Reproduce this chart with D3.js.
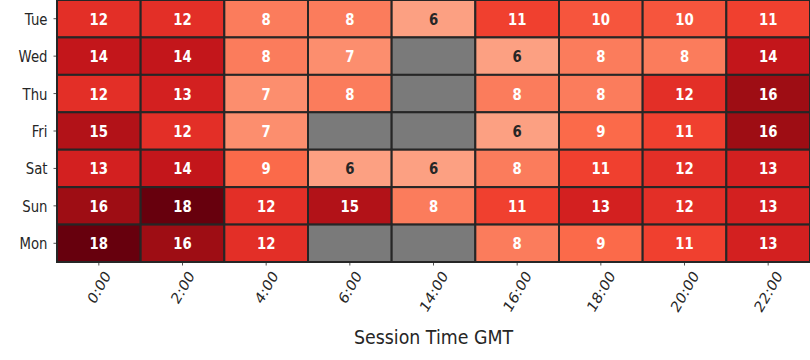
<!DOCTYPE html>
<html><head><meta charset="utf-8">
<script src="https://cdn.jsdelivr.net/npm/d3@7/dist/d3.min.js"></script>
<style>body{margin:0;background:#fff}svg{display:block;font-family:"DejaVu Sans",sans-serif}</style>
</head><body><svg id="c" width="810" height="360"></svg>
<script>
const days = ["Tue","Wed","Thu","Fri","Sat","Sun","Mon"];
const times = ["0:00","2:00","4:00","6:00","14:00","16:00","18:00","20:00","22:00"];
const tue = [12,12,8,8,6,11,10,10,11];
const wed = [14,14,8,7,null,6,8,8,14];
const thu = [12,13,7,8,null,8,8,12,16];
const fri = [15,12,7,null,null,6,9,11,16];
const sat = [13,14,9,6,6,8,11,12,13];
const sun = [16,18,12,15,8,11,13,12,13];
const mon = [18,16,12,null,null,8,9,11,13];
const rows = [tue,wed,thu,fri,sat,sun,mon];
const xLabel = "Session Time GMT";

const svg = d3.select("#c");
const m = {l:57, r:810, t:0, b:262};
const x = d3.scaleBand().domain(times).range([m.l, m.r]);
const y = d3.scaleBand().domain(days).range([m.t, m.b]);
const redStops = ["#fff5f0","#fee0d2","#fcbba1","#fc9272","#fb6a4a","#ef3b2c","#cb181d","#a50f15","#67000d"];
const vmin = 0, vmax = 18;
const color = d3.scaleLinear().domain(d3.range(9).map(i => vmin + (vmax-vmin)*i/8)).range(redStops).interpolate(d3.interpolateRgb).clamp(true);
const SX = 0.83;

const cells = [];
rows.forEach((r,i) => r.forEach((v,j) => cells.push({day:days[i], time:times[j], v})));

const g = svg.append("g");
g.selectAll("rect").data(cells).join("rect")
  .attr("x", d => x(d.time)).attr("y", d => y(d.day))
  .attr("width", x.bandwidth()).attr("height", y.bandwidth())
  .attr("fill", d => d.v == null ? "#7a7a7a" : color(d.v))
  .attr("stroke", "#262626").attr("stroke-width", 2);

function lum(c){ const rgb=d3.rgb(c); const f=v=>{v/=255;return v<=0.03928?v/12.92:Math.pow((v+0.055)/1.055,2.4)}; return 0.2126*f(rgb.r)+0.7152*f(rgb.g)+0.0722*f(rgb.b); }
g.selectAll("text.ann").data(cells.filter(d => d.v != null)).join("text")
  .attr("class","ann")
  .attr("transform", d => `translate(${x(d.time) + x.bandwidth()/2},${y(d.day) + y.bandwidth()/2}) scale(${SX},1)`)
  .attr("text-anchor","middle").attr("dominant-baseline","central")
  .attr("font-size", 16).attr("font-weight","bold")
  .attr("fill", d => lum(color(d.v)) > 0.44 ? "#262626" : "#ffffff")
  .text(d => d.v);

// y axis
const ya = svg.append("g").attr("transform", `translate(${m.l},0)`)
  .call(d3.axisLeft(y).tickSize(3.5).tickPadding(4));
ya.select(".domain").remove();
ya.selectAll("line").attr("stroke","#262626").attr("stroke-width",0.8);
ya.selectAll("text").attr("font-size",16).attr("fill","#262626").attr("font-family","DejaVu Sans")
  .attr("x",null).attr("dy",null).attr("dominant-baseline","central")
  .attr("transform",`translate(-9.5,0) scale(${SX},1)`);

// x axis
const rotDeg = Math.atan(Math.tan(Math.PI/3)*SX) * 180/Math.PI;
const xa = svg.append("g").attr("transform", `translate(0,${m.b})`)
  .call(d3.axisBottom(x).tickSize(3.5).tickPadding(0));
xa.select(".domain").remove();
xa.selectAll("line").attr("stroke","#262626").attr("stroke-width",0.8);
xa.selectAll("text").attr("font-size",16).attr("fill","#262626").attr("font-family","DejaVu Sans")
  .attr("dy",null).attr("y",0)
  .attr("text-anchor","middle").attr("dominant-baseline","central")
  .each(function(){
    const w = this.getComputedTextLength(), h = 12;
    const a = rotDeg*Math.PI/180;
    const bh = w*Math.sin(a) + h*Math.cos(a);
    d3.select(this).attr("transform", `translate(0,${3.5+3.5+bh/2}) scale(${SX},1) rotate(${-rotDeg})`);
  });

svg.append("text").attr("transform",`translate(${(m.l+m.r)/2},344) scale(0.87,1)`)
  .attr("text-anchor","middle").attr("font-size",20).attr("fill","#262626")
  .text(xLabel);
</script></body></html>
